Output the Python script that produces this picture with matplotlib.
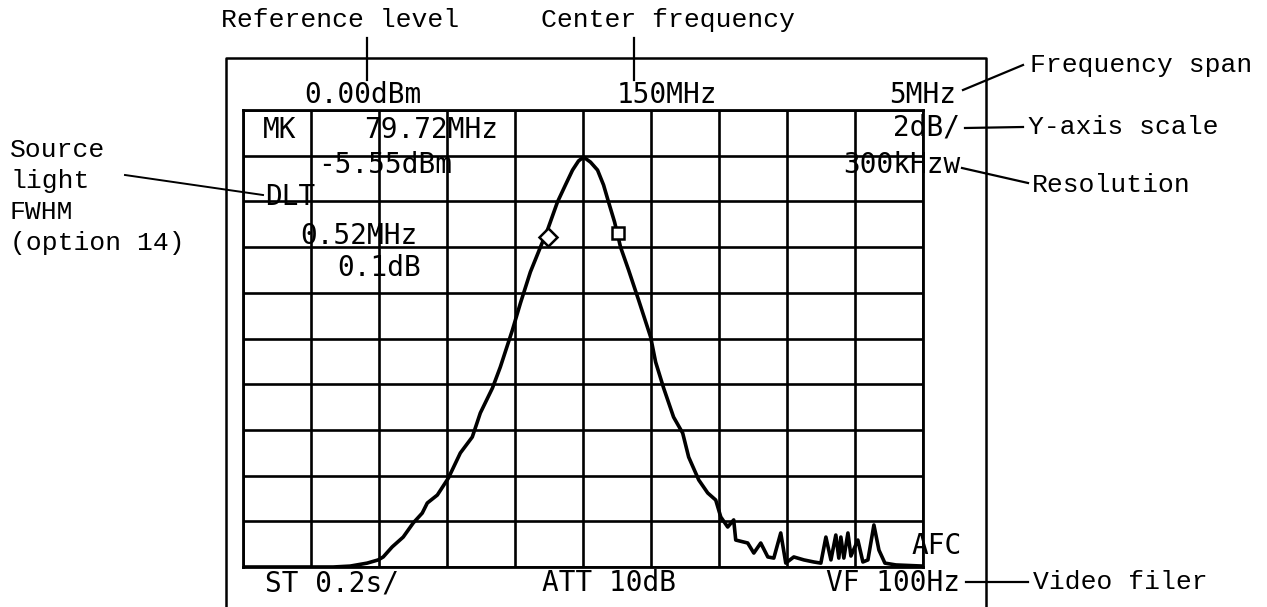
import numpy as np
import matplotlib
matplotlib.use("Agg")
import matplotlib.pyplot as plt
from matplotlib.lines import Line2D

# ---------------- data ----------------
center_mhz = 150.0
span_mhz = 5.0
ref_level_db = 0.0
db_per_div = 2.0
n_div = 10

freq_mhz = [147.500, 147.920, 148.163, 148.288, 148.413, 148.494, 148.531, 148.597,
            148.678, 148.752, 148.818, 148.855, 148.929, 149.010, 149.098, 149.186,
            149.245, 149.334, 149.392, 149.481, 149.540, 149.613, 149.687, 149.739,
            149.812, 149.871, 149.923, 149.967, 150.004, 150.055, 150.107, 150.151,
            150.188, 150.232, 150.276, 150.335, 150.409, 150.497, 150.534, 150.593,
            150.666, 150.733, 150.777, 150.851, 150.917, 150.976, 151.013, 151.064,
            151.108, 151.123, 151.211, 151.256, 151.307, 151.359, 151.403, 151.454,
            151.491, 151.550, 151.624, 151.697, 151.749, 151.786, 151.823, 151.859,
            151.881, 151.896, 151.918, 151.948, 151.970, 152.021, 152.058, 152.095,
            152.139, 152.176, 152.220, 152.301, 152.500]
level_db = [-20.00, -20.00, -20.00, -19.96, -19.83, -19.69, -19.56, -19.12,
            -18.69, -18.07, -17.64, -17.20, -16.85, -16.11, -15.01, -14.31,
            -13.26, -12.17, -11.25, -9.63, -8.45, -7.09, -6.00, -5.25,
            -4.03, -3.28, -2.63, -2.23, -2.06, -2.28, -2.63, -3.28,
            -4.03, -4.90, -6.00, -7.00, -8.32, -9.93, -11.03, -12.17,
            -13.44, -14.14, -15.19, -16.19, -16.76, -17.07, -17.81, -18.25,
            -17.94, -18.82, -18.95, -19.39, -18.95, -19.56, -19.61, -18.51,
            -19.83, -19.56, -19.69, -19.78, -19.83, -18.69, -19.69, -18.60,
            -19.61, -18.69, -19.61, -18.51, -19.52, -18.82, -19.78, -19.69,
            -18.16, -19.26, -19.83, -19.91, -19.96]

marker_diamond = (149.739, -5.56)
marker_square = (150.254, -5.40)

top_labels = ["0.00dBm", "150MHz", "5MHz"]
cell_labels = ["MK", "79.72MHz", "-5.55dBm", "DLT", "0.52MHz", "0.1dB"]
right_labels = ["2dB/", "300kHzw", "AFC"]
bottom_labels = ["ST 0.2s/", "ATT 10dB", "VF 100Hz"]
annotations = ["Reference level", "Center frequency", "Frequency span",
               "Y-axis scale", "Resolution", "Video filer"]
source_note = ["Source", "light", "FWHM", "(option 14)"]

# ---------------- figure ----------------
W, H = 1267, 607
fig = plt.figure(figsize=(W / 100, H / 100), dpi=100)
fig.patch.set_facecolor("white")


def P(x, y):
    return (x / W, 1 - y / H)


gl, gr, gt, gb = 243, 923, 110, 567
ax = fig.add_axes([gl / W, 1 - gb / H, (gr - gl) / W, (gb - gt) / H])
f0 = center_mhz - span_mhz / 2
f1 = center_mhz + span_mhz / 2
bottom_db = ref_level_db - db_per_div * n_div
ax.set_xlim(f0, f1)
ax.set_ylim(bottom_db, ref_level_db)
ax.set_xticks(np.linspace(f0, f1, n_div + 1))
ax.set_yticks(np.linspace(bottom_db, ref_level_db, n_div + 1))
ax.tick_params(length=0, labelbottom=False, labelleft=False)
ax.grid(True, color="black", linewidth=1.9)
for s in ax.spines.values():
    s.set_linewidth(2.0)
    s.set_color("black")
ax.set_axisbelow(True)

ax.plot(freq_mhz, level_db, color="black", linewidth=2.6, solid_joinstyle="round")
ax.plot(*marker_diamond, marker="D", markersize=9, markerfacecolor="white",
        markeredgecolor="black", markeredgewidth=1.8)
ax.plot(*marker_square, marker="s", markersize=8.5, markerfacecolor="white",
        markeredgecolor="black", markeredgewidth=1.8)

# ---------------- outer frame ----------------
def fline(xs, ys, lw=1.8):
    pts = [P(x, y) for x, y in zip(xs, ys)]
    fig.add_artist(Line2D([p[0] for p in pts], [p[1] for p in pts],
                          transform=fig.transFigure, color="black", linewidth=lw))


fline([226, 226, 986, 986], [607, 58, 58, 607])

# ---------------- screen text ----------------
scr = dict(family=["DejaVu Sans Mono"], fontsize=20, color="black", va="center")


def st(x, y, s, ha="left"):
    fig.text(*P(x, y), s, ha=ha, **scr)


st(363, 95, top_labels[0], ha="center")
st(667, 95, top_labels[1], ha="center")
st(956, 95, top_labels[2], ha="right")

st(280, 130, cell_labels[0], ha="center")
st(498, 130, cell_labels[1], ha="right")
st(318, 165, cell_labels[2])
st(265, 197, cell_labels[3])
st(300, 236, cell_labels[4])
st(337, 268, cell_labels[5])

st(960, 127, right_labels[0], ha="right")
st(960, 165, right_labels[1], ha="right")
st(912, 546, right_labels[2])

st(265, 583, bottom_labels[0])
st(542, 583, bottom_labels[1])
st(960, 583, bottom_labels[2], ha="right")

# ---------------- annotations ----------------
ann = dict(family=["Liberation Mono"], fontsize=19, color="black", va="center")


def at(x, y, s, ha="left"):
    fig.text(*P(x, y), s, ha=ha, **ann)


at(221, 20, annotations[0])
at(541, 20, annotations[1])
at(1030, 65, annotations[2])
at(1028, 127, annotations[3])
at(1032, 185, annotations[4])
at(1033, 582, annotations[5])
for i, s in enumerate(source_note):
    at(10, 150 + i * 31, s)

fline([367, 367], [38, 80], lw=1.6)
fline([634, 634], [38, 80], lw=1.6)
fline([963, 1023], [90, 65], lw=1.6)
fline([965, 1023], [128, 127], lw=1.6)
fline([962, 1028], [168, 183], lw=1.6)
fline([966, 1028], [582, 582], lw=1.6)
fline([125, 263], [175, 195], lw=1.4)

fig.savefig("out.png", dpi=100)
